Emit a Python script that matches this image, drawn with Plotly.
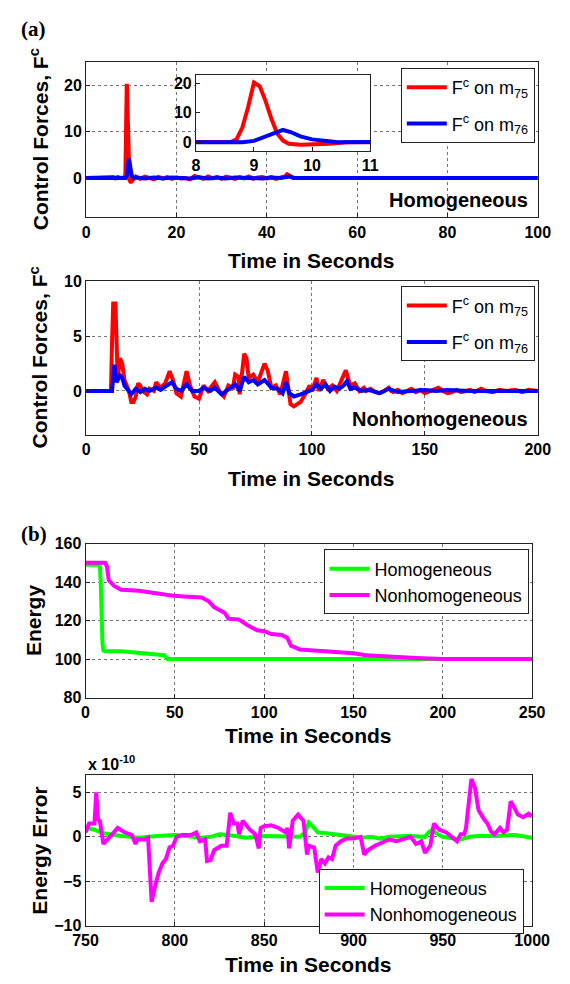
import plotly.graph_objects as go

W, H = 570, 984

# ---------------- data ----------------
# (a) Homogeneous control forces
hom_t_red = [0, 5, 6, 6.5, 7, 7.5, 8, 8.5, 8.6, 8.7, 8.8, 8.9, 9.0, 9.1, 9.2, 9.3, 9.4, 9.5, 9.6, 9.8, 10.0,
             10.3, 10.6, 11, 12, 13, 14, 15, 16, 17, 18, 19, 20, 21, 22, 23, 24, 25, 26, 27, 28, 29,
             30, 31, 32, 33, 34, 35, 36, 37, 38, 39, 40, 41, 42, 43, 44, 44.5, 45, 45.5, 46, 100]
hom_red = [0, 0, 0.2, -0.1, 0.2, 0, 0, 0, 0.1, 1, 5, 12, 20.3, 19, 14, 8, 3, 0.6, -0.5, -0.8, -0.8,
           -0.5, 0, 0.3, -0.2, 0.3, 0, -0.3, 0.2, -0.1, 0.2, -0.2, 0.1, -0.1, 0, -0.3, 0.4, 0.1, -0.2, 0.3, -0.1, 0.2,
           -0.2, 0.3, 0, -0.2, 0.2, -0.1, 0.3, -0.2, 0.1, 0.2, -0.1, 0.2, -0.2, 0.1, 0.3, 0.8, 0.6, 0.2, 0, 0]
hom_t_blue = [0, 8, 8.8, 9.0, 9.2, 9.42, 9.5, 9.63, 9.8, 10.0, 10.24, 10.45, 11, 13, 15, 17, 19, 21, 23,
              25, 27, 29, 31, 33, 35, 37, 39, 41, 43, 45, 46, 100]
hom_blue = [0, 0, 0, 0.5, 2, 3.8, 4.2, 3.5, 2, 1, 0.3, 0, 0.1, -0.1, 0.1, -0.1, 0.1, 0, -0.1,
            0.15, -0.1, 0.1, -0.1, 0.1, 0, 0.1, -0.1, 0.1, 0, 0.3, 0, 0]

# (a) Nonhomogeneous control forces
non_t_red = [0, 11, 11.5, 12, 13, 13.5, 14, 15, 16, 17, 19, 20, 21, 22, 23, 24, 25, 27, 28, 30, 31, 33, 35,
             37, 38.5, 40, 42, 44.5, 46, 48, 50, 52, 54, 57, 59, 61, 63, 65, 66, 67.5, 68, 70, 71, 72,
             74, 76, 79, 80.5, 82, 84, 86, 88.5, 89.5, 90.5, 92, 95, 97, 99, 100, 102, 103, 105, 107,
             109, 111, 113, 115, 117, 119, 121, 123, 124, 126, 128, 130, 132, 134, 135, 136, 138, 140,
             142, 144, 146, 148, 150, 152, 153, 155, 156, 158, 160, 162, 164, 166, 168, 170, 172, 175,
             177, 180, 183, 186, 190, 193, 196, 200]
non_red = [0, 0, 4.5, 8, 8, 3, 1, 3, 2.5, 1, 0, -1, -1, -0.5, 0.7, 0.5, 0, -0.3, 0.2, 0, 0.8, 0.3, 0.7,
           1.8, 1, -0.2, -0.5, 1.8, 0.5, -0.5, -0.7, 0.5, 0, 0.8, 0, -0.5, 0.5, 0.3, 1.5, 1.3, -0.3, 3.4, 3, 1.2,
           1.5, 0.8, 2.5, 1.8, 0.3, 0.5, -0.3, 1.8, 0, -1.2, -1.4, -1, -0.3, 0.5, 0, 1.2, 0, 1, 0.2,
           0.5, 0, 1, 1.9, 0.5, 0.7, 0, 0.3, 0, 0.2, -0.1, -0.2, 0, 0.3, 0, -0.1, 0.1, -0.2,
           0, 0.2, -0.1, 0.1, -0.2, 0, 0.1, 0.2, 0.3, 0, -0.2, -0.1, 0.1, -0.1, 0, 0.1, -0.1, 0.2,
           0, -0.1, 0.1, 0, 0.1, -0.1, 0.1, 0]
non_t_blue = [0, 11.5, 12.5, 13.5, 15, 16, 17, 19, 20, 22, 24, 26, 28, 31, 33, 35, 38, 40, 42, 44.5, 47,
              50, 52, 55, 57, 60, 63, 66, 68, 70, 72, 74, 76, 79, 82, 85, 87, 88.5, 90, 92, 95, 98,
              100, 102, 104, 106, 108, 110, 112, 114, 115.5, 117, 119, 122, 125, 130, 134, 138, 145,
              150, 155, 160, 170, 200]
non_blue = [0, 0, 2.4, 0.8, 1.4, 1.2, 0.5, 0, -0.3, 0.2, -0.1, 0.2, 0, 0.3, 0.1, 0.4, 0.8, 0.2, 0, 0.6, 0,
            0, 0.3, 0, 0.3, -0.3, 0.2, 0.6, 0, 1.3, 0.8, 1, 0.6, 1, 0.3, 0.2, -0.2, 0.8, -0.2, -0.5, -0.3, 0,
            0.1, 0.6, 0.2, 0.6, 0, 0.4, 0.2, 0.5, 0.9, 0.2, 0.3, 0, 0.1, -0.2, 0.2, -0.1, 0,
            0.1, 0, 0.1, 0, 0]

# (b) Energy
en_t_hom = [0, 8, 8.5, 9, 9.5, 10, 11, 20, 30, 40, 44, 45, 46, 60, 100, 150, 200, 250]
en_hom = [149, 149, 140, 120, 108, 104.5, 104, 104, 103, 102.5, 102, 101, 100, 100, 100, 100, 100, 100]
en_t_non = [0, 11, 12, 13, 16, 20, 30, 40, 48, 55, 65, 69, 72, 78, 80, 86, 90, 96, 100, 104, 110,
            113, 115, 120, 130, 140, 150, 157, 165, 175, 185, 200, 250]
en_non = [150, 150, 148, 141, 138, 136, 135.5, 134, 133, 132.5, 132, 130, 127, 124, 121, 120.5, 118,
          115, 114.5, 113, 112.5, 111, 107, 105, 104.5, 103.5, 103, 102, 101.5, 101, 100.5, 100, 100]

# (b) Energy error, in units of 1e-10
err_t_hom = [750, 755, 760, 765, 770, 775, 780, 790, 800, 810, 815, 820, 825, 830, 835, 840, 850, 860,
             870, 873, 875, 877, 880, 885, 890, 895, 900, 905, 910, 915, 920, 930, 940, 942, 944, 947,
             950, 955, 960, 965, 970, 980, 990, 1000]
err_hom = [1.0, 0.8, 0.4, 0.2, 0.1, 0, -0.1, 0.1, 0.2, 0, -0.1, 0, 0.3, 0.2, 0, -0.1, 0.1, 0,
           0, 0.5, 1.6, 1.2, 0.5, 0.4, 0.3, 0.1, 0, -0.1, 0, -0.2, 0, 0.1, 0, 0.5, 0.8, 0.3,
           0, -0.2, -0.3, 0, 0.1, 0.1, 0.2, -0.1]
err_t_non = [750, 752, 755, 756, 757, 758, 760, 762, 765, 768, 772, 776, 778, 779, 783, 785, 787, 789,
             791, 793, 795, 797, 799, 801, 804, 809, 812, 814, 817, 818, 820, 822, 824, 826, 829, 831,
             833, 835, 836, 838, 842, 845, 847, 848, 850, 854, 858, 862, 863, 864, 866, 869, 872, 873,
             874, 875, 878, 880, 882, 884, 886, 888, 890, 893, 896, 900, 904, 906, 908, 912, 916, 920,
             924, 928, 932, 935, 938, 940, 943, 945, 948, 952, 955, 958, 960, 962, 963, 966, 968, 970,
             973, 975, 977, 979, 982, 984, 986, 988, 990, 992, 995, 998, 1000]
err_non = [0.5, 1.5, 1.5, 5, 2, 1.8, -0.8, -0.3, 0.3, 1, 0.5, 0.2, -0.8, -0.3, -0.3, -0.1, -7.3, -5.5,
           -4, -3, -2.5, -1.2, -1, 0, 0.2, 0.2, 0.5, -0.5, -0.3, -2.7, -2.6, -1.5, -1.2, -1, -1, 2.7,
           1.5, 1.5, 0.3, 1.8, 0.8, 0.3, -1.3, 1, 1.2, 1.3, 1, 0.5, 1, -1.3, 1.8, 2.5, 1.8, 0,
           -2, -1, -1.2, -4, -2.5, -3, -2.3, -2.5, -1, -0.5, -0.2, -0.2, 0, -2, -1.5, -1, -0.6, -0.3,
           -0.5, -0.2, 0, -0.8, -0.5, -1.8, -1, 1.5, 0.8, 0.5, 0, -0.5, 0.3, 0.3, 1, 6.5, 5.5, 3,
           2, 1.5, 0.6, 0.3, 1, 0.5, 0.8, 4, 3.3, 2.5, 2.2, 2.6, 2.3]

# tick labels
ticks_a1_y = [0, 10, 20]
ticks_a1_x = [0, 20, 40, 60, 80, 100]
ticks_inset_x = [8, 9, 10, 11]
ticks_inset_y = [0, 10, 20]
ticks_a2_y = [0, 5, 10]
ticks_a2_x = [0, 50, 100, 150, 200]
ticks_b1_y = [80, 100, 120, 140, 160]
ticks_b1_x = [0, 50, 100, 150, 200, 250]
ticks_b2_y = [-10, -5, 0, 5]
ticks_b2_x = [750, 800, 850, 900, 950, 1000]

RED, BLUE, GREEN, MAG = "#ff0000", "#0000ff", "#00ff00", "#ff00ff"
LW = 4
FONT = "Liberation Sans, Arial, sans-serif"

# ---------------- layout helpers ----------------
def px_x(a, b):
    return [a / W, b / W]

def px_y(top, bottom):
    return [1 - bottom / H, 1 - top / H]

fig = go.Figure()

leg_red = "F<sup>c</sup> on m<sub>75</sub>"
leg_blue = "F<sup>c</sup> on m<sub>76</sub>"

# panel a1
fig.add_trace(go.Scatter(x=hom_t_red, y=hom_red, mode="lines", line=dict(color=RED, width=LW),
                         name=leg_red, legend="legend", legendgroup="r1", xaxis="x", yaxis="y"))
fig.add_trace(go.Scatter(x=hom_t_blue, y=hom_blue, mode="lines", line=dict(color=BLUE, width=LW),
                         name=leg_blue, legend="legend", legendgroup="b1", xaxis="x", yaxis="y"))
# inset (same data, zoomed range)
fig.add_trace(go.Scatter(x=hom_t_red, y=hom_red, mode="lines", line=dict(color=RED, width=LW),
                         showlegend=False, xaxis="x5", yaxis="y5"))
fig.add_trace(go.Scatter(x=hom_t_blue, y=hom_blue, mode="lines", line=dict(color=BLUE, width=LW),
                         showlegend=False, xaxis="x5", yaxis="y5"))
# panel a2
fig.add_trace(go.Scatter(x=non_t_red, y=non_red, mode="lines", line=dict(color=RED, width=LW),
                         name=leg_red, legend="legend2", legendgroup="r2", xaxis="x2", yaxis="y2"))
fig.add_trace(go.Scatter(x=non_t_blue, y=non_blue, mode="lines", line=dict(color=BLUE, width=LW),
                         name=leg_blue, legend="legend2", legendgroup="b2", xaxis="x2", yaxis="y2"))
# panel b1
fig.add_trace(go.Scatter(x=en_t_hom, y=en_hom, mode="lines", line=dict(color=GREEN, width=LW),
                         name="Homogeneous", legend="legend3", xaxis="x3", yaxis="y3"))
fig.add_trace(go.Scatter(x=en_t_non, y=en_non, mode="lines", line=dict(color=MAG, width=LW),
                         name="Nonhomogeneous", legend="legend3", xaxis="x3", yaxis="y3"))
# panel b2
fig.add_trace(go.Scatter(x=err_t_hom, y=err_hom, mode="lines", line=dict(color=GREEN, width=LW),
                         name="Homogeneous", legend="legend4", xaxis="x4", yaxis="y4"))
fig.add_trace(go.Scatter(x=err_t_non, y=err_non, mode="lines", line=dict(color=MAG, width=LW),
                         name="Nonhomogeneous", legend="legend4", xaxis="x4", yaxis="y4"))

tickfont = dict(family=FONT, size=16, color="black", weight="bold")
common = dict(showline=True, mirror=True, linecolor="#222", linewidth=1, ticks="inside",
              ticklen=4, tickcolor="#222", zeroline=False, tickfont=tickfont,
              showgrid=True, gridcolor="#777", griddash="dot", gridwidth=1)

def xa(domain, rng, ticks, anchor, grid=True):
    d = dict(common); d.update(domain=domain, range=rng, tickvals=ticks, anchor=anchor, showgrid=grid)
    return d

def ya(domain, rng, ticks, anchor, grid=True):
    d = dict(common); d.update(domain=domain, range=rng, tickvals=ticks, anchor=anchor, showgrid=grid)
    return d

fig.update_layout(
    width=W, height=H, margin=dict(l=0, r=0, t=0, b=0),
    plot_bgcolor="white", paper_bgcolor="white",
    xaxis=xa(px_x(77.3, 555), [0, 100], ticks_a1_x, "y"),
    yaxis=ya(px_y(55, 213), [-8.5, 25], ticks_a1_y, "x"),
    xaxis2=xa(px_x(77.3, 555), [0, 200], ticks_a2_x, "y2"),
    yaxis2=ya(px_y(278.3, 434.3), [-4, 10], ticks_a2_y, "x2"),
    xaxis3=xa(px_x(76.7, 549), [0, 250], ticks_b1_x, "y3"),
    yaxis3=ya(px_y(545, 701.7), [80, 160], ticks_b1_y, "x3"),
    xaxis4=xa(px_x(76.7, 549), [750, 1000], ticks_b2_x, "y4"),
    yaxis4=ya(px_y(780, 934), [-10, 7], ticks_b2_y, "x4"),
    xaxis5=xa(px_x(193.4, 377.7), [8, 11], ticks_inset_x, "y5", grid=False),
    yaxis5=ya(px_y(67.7, 145.7), [-3, 23], ticks_inset_y, "x5", grid=False),
    showlegend=True,
)

legfont = dict(family=FONT, size=18, color="black")
def leg(right_px, top_px, gap=0):
    return dict(x=right_px / W, y=1 - top_px / H, xanchor="right", yanchor="top",
                bgcolor="white", bordercolor="#222", borderwidth=1, font=legfont,
                tracegroupgap=gap, itemwidth=40)

fig.update_layout(
    legend=leg(551.8, 61, gap=10),
    legend2=leg(551.8, 283.3, gap=10),
    legend3=leg(545.2, 551),
    legend4=leg(540, 876),
)

# white background for the inset (covers main grid and traces)
fig.add_shape(type="rect", xref="x5", yref="y5", x0=8, x1=11, y0=-3, y1=23,
              fillcolor="white", line=dict(width=0), layer="below")

titlefont = dict(family=FONT, size=21, color="black", weight="bold")
ann = []
def a(text, xpx, ypx, angle=0, font=titlefont, xanchor="center"):
    ann.append(dict(text=text, x=xpx / W, y=1 - ypx / H, xref="paper", yref="paper",
                    showarrow=False, textangle=angle, font=font, xanchor=xanchor, yanchor="middle"))

a("Control Forces, F<sup>c</sup>", 27, 134, angle=-90)
a("Control Forces, F<sup>c</sup>", 27, 356, angle=-90)
a("Energy", 21, 623, angle=-90)
a("Energy Error", 28, 857, angle=-90)
a("Time in Seconds", 316, 257)
a("Time in Seconds", 316, 479)
a("Time in Seconds", 313, 740)
a("Time in Seconds", 313, 973)
labfont = dict(family=FONT, size=20, color="black", weight="bold")
a("Homogeneous", 547, 195, font=labfont, xanchor="right")
a("Nonhomogeneous", 547, 418, font=labfont, xanchor="right")
serif = dict(family="Liberation Serif, Times New Roman, serif", size=21, color="black", weight="bold")
a("(a)", 22, 21, font=serif)
a("(b)", 22, 535, font=serif)
a("x 10<sup>-10</sup>", 77, 768, font=dict(family=FONT, size=16, color="black", weight="bold"),
  xanchor="left")
fig.update_layout(annotations=ann)

fig.write_html("out.html")
